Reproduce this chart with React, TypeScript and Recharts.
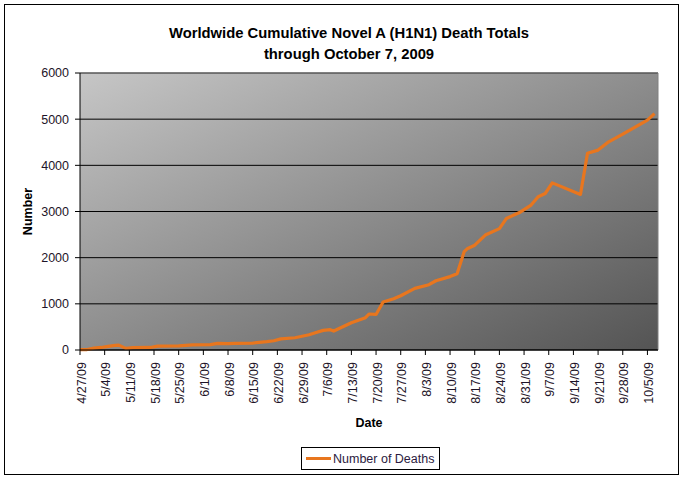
import { LineChart, Line, XAxis, YAxis, CartesianGrid, ReferenceLine } from 'recharts'

// Cumulative worldwide deaths
const dates = [
  '4/27', '4/29', '5/1', '5/3', '5/5', '5/7', '5/8', '5/10', '5/12', '5/17',
  '5/19', '5/25', '5/29', '6/3', '6/5', '6/8', '6/10', '6/15', '6/19', '6/21',
  '6/23', '6/27', '7/1', '7/3', '7/5', '7/7', '7/8', '7/13', '7/17', '7/18',
  '7/20', '7/22', '7/25', '7/27', '7/31', '8/4', '8/6', '8/10', '8/12', '8/14',
  '8/15', '8/17', '8/20', '8/24', '8/26', '8/30', '9/2', '9/4', '9/6', '9/8',
  '9/16', '9/18', '9/21', '9/24', '9/28', '10/2', '10/5', '10/7',
]
const deaths = [
  7, 10, 40, 55, 80, 100, 105, 35, 50, 55,
  85, 90, 110, 115, 145, 140, 145, 150, 180, 200,
  240, 265, 330, 380, 425, 440, 410, 590, 700, 780,
  770, 1040, 1110, 1175, 1335, 1415, 1500, 1590, 1650, 2130,
  2200, 2270, 2490, 2630, 2850, 2990, 3140, 3320, 3390, 3620,
  3370, 4260, 4330, 4510, 4675, 4850, 4980, 5120,
]
const tickLabels = [
  '4/27/09', '5/4/09', '5/11/09', '5/18/09', '5/25/09', '6/1/09', '6/8/09', '6/15/09',
  '6/22/09', '6/29/09', '7/6/09', '7/13/09', '7/20/09', '7/27/09', '8/3/09', '8/10/09',
  '8/17/09', '8/24/09', '8/31/09', '9/7/09', '9/14/09', '9/21/09', '9/28/09', '10/5/09',
]
const yTicks = [0, 1000, 2000, 3000, 4000, 5000, 6000]

const DAY = 86400000
const start = Date.UTC(2009, 3, 27)
const toDay = (s: string) => {
  const [m, d] = s.split('/').map(Number)
  return Math.round((Date.UTC(2009, m - 1, d) - start) / DAY)
}

const data = dates.map((d, i) => ({ day: toDay(d), deaths: deaths[i] }))
const tickDays = tickLabels.map(toDay)
const labelByDay: Record<number, string> = {}
tickDays.forEach((d, i) => (labelByDay[d] = tickLabels[i]))

const FONT = '"Liberation Sans", Arial, sans-serif'
const TEXT = '#1e1428'
const ORANGE = '#E8761E'

function DateTick({ x, y, payload }: any) {
  return (
    <g transform={`translate(${x},${y})`}>
      <text
        transform="rotate(-90)"
        x={-7}
        y={5.5}
        textAnchor="end"
        fill={TEXT}
        fontSize={12.5}
        fontFamily={FONT}
      >
        {labelByDay[payload.value]}
      </text>
    </g>
  )
}

function YLabel({ viewBox }: any) {
  const cx = viewBox.x + 32
  const cy = viewBox.y + viewBox.height / 2
  return (
    <text
      x={cx}
      y={cy}
      transform={`rotate(-90 ${cx} ${cy})`}
      textAnchor="middle"
      fill="#000"
      fontSize={12.5}
      fontWeight="bold"
      fontFamily={FONT}
    >
      Number
    </text>
  )
}

export default function App() {
  return (
    <div style={{ position: 'absolute', left: 0, top: 0, width: 683, height: 479, background: '#fff', fontFamily: FONT }}>
      <div
        style={{
          position: 'absolute', left: 4, top: 4, width: 675, height: 471,
          border: '1px solid #000', boxSizing: 'border-box',
        }}
      />
      <div
        style={{
          position: 'absolute', left: 0, top: 23, width: 698, textAlign: 'center',
          fontSize: 14.8, fontWeight: 'bold', lineHeight: '21px', color: '#000',
        }}
      >
        Worldwide Cumulative Novel A (H1N1) Death Totals
        <br />
        through October 7, 2009
      </div>

      <LineChart
        width={683}
        height={479}
        data={data}
        margin={{ top: 73, right: 25, bottom: 0, left: 0 }}
        style={{ position: 'absolute', left: 0, top: 0 }}
      >
        <defs>
          <linearGradient id="plotBg" x1="0" y1="0" x2="1" y2="1">
            <stop offset="0%" stopColor="#c6c6c6" />
            <stop offset="100%" stopColor="#545454" />
          </linearGradient>
        </defs>
        <CartesianGrid vertical={false} stroke="#000" fill="url(#plotBg)" fillOpacity={1} />
        <XAxis
          type="number"
          dataKey="day"
          domain={[0, 164]}
          ticks={tickDays}
          interval={0}
          height={129}
          tick={<DateTick />}
          tickSize={5}
          tickMargin={0}
          stroke="#000"
          tickLine={{ stroke: '#000' }}
          label={{
            value: 'Date', position: 'insideBottom', offset: 52,
            fill: '#000', fontSize: 12.5, fontWeight: 'bold', fontFamily: FONT,
          }}
        />
        <YAxis
          type="number"
          domain={[0, 6000]}
          ticks={yTicks}
          width={80}
          tickSize={5}
          tickMargin={6}
          stroke="#000"
          tickLine={{ stroke: '#000' }}
          tick={{ fill: TEXT, fontSize: 12.5, fontFamily: FONT }}
          label={<YLabel />}
        />
        <ReferenceLine y={6000} stroke="#808080" />
        <ReferenceLine x={164} stroke="#808080" />
        <Line
          type="linear"
          dataKey="deaths"
          stroke={ORANGE}
          strokeWidth={3.2}
          strokeLinejoin="round"
          dot={false}
          isAnimationActive={false}
        />
      </LineChart>

      <div
        style={{
          position: 'absolute', left: 301, top: 447, width: 139, height: 23,
          border: '1px solid #000', boxSizing: 'border-box',
          display: 'flex', alignItems: 'center',
        }}
      >
        <span style={{ display: 'inline-block', width: 25, height: 3, background: ORANGE, marginLeft: 4, marginRight: 2 }} />
        <span style={{ fontSize: 12.5, color: '#2b1a40', whiteSpace: 'nowrap' }}>Number of Deaths</span>
      </div>
    </div>
  )
}
